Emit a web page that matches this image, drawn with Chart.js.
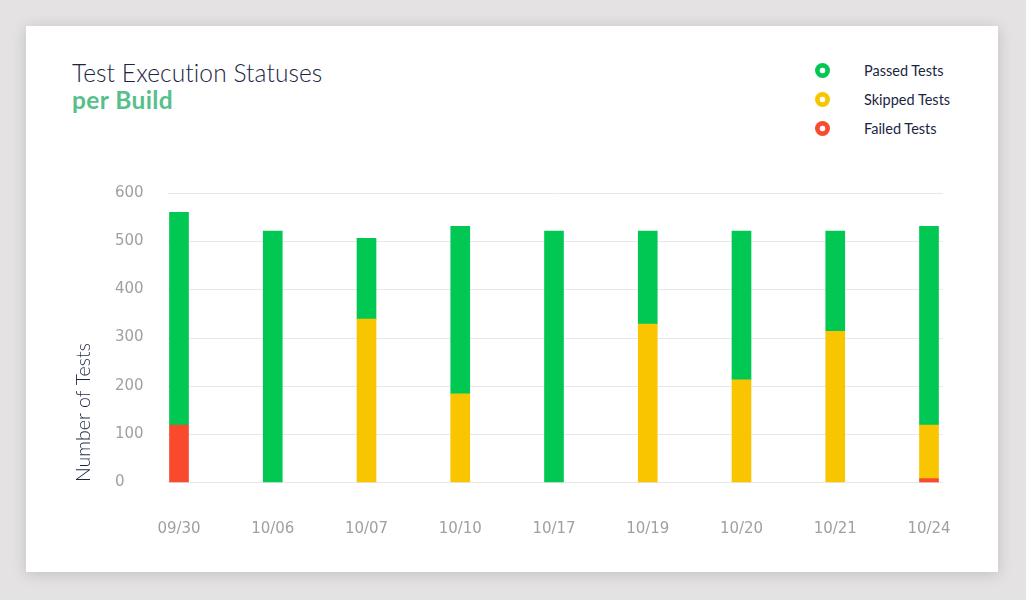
<!DOCTYPE html>
<html>
<head>
<meta charset="utf-8">
<title>Test Execution Statuses per Build</title>
<script src="https://cdn.jsdelivr.net/npm/chart.js@4.4.1/dist/chart.umd.min.js"></script>
<style>
    html, body { margin: 0; padding: 0; }
    body {
        width: 1026px;
        height: 600px;
        background: #e4e2e2;
        position: relative;
        overflow: hidden;
        font-family: Lato, "Open Sans", sans-serif;
    }
    .card {
        position: absolute;
        left: 26px;
        top: 26px;
        width: 972px;
        height: 546px;
        background: #fff;
        box-shadow: 0 2px 14px rgba(0, 0, 0, 0.16);
    }
    .title {
        position: absolute;
        left: 72px;
        top: 59px;
        font-size: 24.5px;
        line-height: 27px;
        font-weight: 300;
        color: #1b2541;
        letter-spacing: 0.1px;
    }
    .title b { color: #57bf8c; font-weight: 700; letter-spacing: 0.4px; }
    .legend {
        position: absolute;
        left: 815px;
        top: 51px;
    }
    .legend-item {
        height: 29px;
        display: flex;
        align-items: center;
        font-size: 14.5px;
        color: #1b2541;
        margin-top: -9px;
        padding-top: 9px;
    }
    .legend-item:first-child { margin-top: -4px; }
    .dot {
        width: 15px;
        height: 15px;
        border-radius: 50%;
        margin-right: 34px;
    }
    #chart {
        position: absolute;
        left: 60px;
        top: 170px;
    }
</style>
</head>
<body>
<div class="card"></div>
<div class="title">Test Execution Statuses<br><b>per Build</b></div>
<div class="legend" id="legend"></div>
<canvas id="chart" width="920" height="390"></canvas>

<script>
// builds on the x axis
const builds = ['09/30', '10/06', '10/07', '10/10', '10/17', '10/19', '10/20', '10/21', '10/24'];

// tests per build
const failedTests = [118, 0, 0, 0, 0, 0, 0, 0, 7];
const skippedTests = [0, 0, 338, 183, 0, 328, 212, 313, 111];
const passedTests = [442, 521, 168, 348, 521, 193, 309, 208, 413];

const seriesNames = ['Passed Tests', 'Skipped Tests', 'Failed Tests'];
const seriesColors = ['#00c853', '#f8c500', '#fa4a2e'];

const yMax = 600;
const yStep = 100;

const tickFont = { family: '"DejaVu Sans", sans-serif', size: 15 };
const tickColor = '#a0a0a0';
const gridColor = '#e8e8e8';

// Legend (top right, ring dots)
document.getElementById('legend').innerHTML = seriesNames.map((name, i) => `
    <div class="legend-item">
        <span class="dot" style="background: radial-gradient(circle, #fff 0 2.6px, ${seriesColors[i]} 3.2px);"></span>
        <span>${name}</span>
    </div>
`).join('');

// horizontal grid lines run a little past the outer bars
const wideGrid = {
    id: 'wideGrid',
    beforeDatasetsDraw(chart) {
        const { ctx, chartArea, scales } = chart;
        ctx.save();
        ctx.strokeStyle = gridColor;
        ctx.lineWidth = 1;
        scales.y.ticks.forEach(t => {
            const y = Math.round(scales.y.getPixelForValue(t.value)) + 0.5;
            ctx.beginPath();
            ctx.moveTo(chartArea.left - 11, y);
            ctx.lineTo(chartArea.right + 14, y);
            ctx.stroke();
        });
        ctx.restore();
    }
};

// zero counts draw no bar at all
const noZero = arr => arr.map(v => (v === 0 ? null : v));

const ctx = document.getElementById('chart').getContext('2d');

new Chart(ctx, {
    type: 'bar',
    data: {
        labels: builds,
        datasets: [
            { label: seriesNames[2], data: noZero(failedTests), backgroundColor: seriesColors[2] },
            { label: seriesNames[1], data: noZero(skippedTests), backgroundColor: seriesColors[1] },
            { label: seriesNames[0], data: noZero(passedTests), backgroundColor: seriesColors[0] }
        ]
    },
    options: {
        responsive: false,
        animation: false,
        // left padding leaves room for the axis title, drawn outside the y scale box
        layout: { padding: { top: 23, right: 51, bottom: 0, left: 55 } },
        datasets: {
            bar: { barThickness: 19, clip: false, borderWidth: 0 }
        },
        plugins: {
            legend: { display: false },
            tooltip: { enabled: false }
        },
        scales: {
            x: {
                stacked: true,
                offset: false,
                grid: { display: false, drawTicks: false },
                border: { display: false },
                ticks: { font: tickFont, color: tickColor, padding: 38, maxRotation: 0 },
                afterFit: scale => {
                    scale.height = 78;
                    scale.paddingLeft = 0;
                    scale.paddingRight = 0;
                }
            },
            y: {
                stacked: true,
                min: 0,
                max: yMax,
                grid: { display: false, drawTicks: false },
                border: { display: false },
                ticks: { stepSize: yStep, font: tickFont, color: tickColor, padding: 0, crossAlign: 'far' },
                title: {
                    display: true,
                    text: 'Number of Tests',
                    align: 'start',
                    color: '#1b2541',
                    font: { family: 'Lato, sans-serif', size: 19.5, weight: 300 },
                    padding: { top: -43, bottom: 0 }
                },
                afterFit: scale => {
                    scale.width = 64;
                    scale.paddingTop = 0;
                    scale.paddingBottom = 0;
                }
            }
        }
    },
    plugins: [wideGrid]
});
</script>
</body>
</html>
